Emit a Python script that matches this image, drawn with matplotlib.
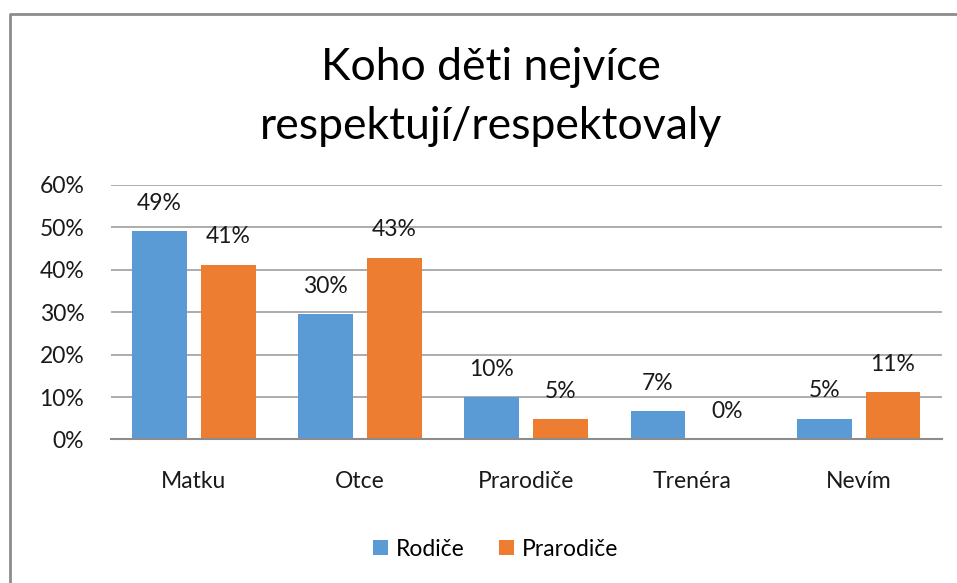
import numpy as np
import matplotlib
matplotlib.use('Agg')
import matplotlib.pyplot as plt
from matplotlib.lines import Line2D

plt.rcParams['font.family'] = ['Lato', 'DejaVu Sans']

categories = ['Matku', 'Otce', 'Prarodiče', 'Trenéra', 'Nevím']
rodice = [49.2, 29.5, 9.9, 6.6, 4.9]          # % Rodiče
prarodice = [41.2, 42.9, 4.8, 0.0, 11.1]      # % Prarodiče
rodice_lbl = ['49%', '30%', '10%', '7%', '5%']
prarodice_lbl = ['41%', '43%', '5%', '0%', '11%']
title = 'Koho děti nejvíce\nrespektují/respektovaly'

blue = '#5B9BD5'
orange = '#ED7D31'
grid_c = '#A6A6A6'

fig = plt.figure(figsize=(9.57, 5.83), dpi=100)
ax = fig.add_axes([0.1157, 0.2462, 0.8683, 0.4365])

x = np.arange(len(categories))
w = 0.33
off = 0.207
b1 = ax.bar(x - off, rodice, w, color=blue, label='Rodiče', zorder=3)
b2 = ax.bar(x + off, prarodice, w, color=orange, label='Prarodiče', zorder=3)

# data labels above bars
for bars, lbls in ((b1, rodice_lbl), (b2, prarodice_lbl)):
    for r, t in zip(bars, lbls):
        ax.annotate(t, (r.get_x() + r.get_width() / 2, r.get_height()),
                    xytext=(0, 20), textcoords='offset points',
                    ha='center', va='center', fontsize=16.5, color='#1a1a1a')

ax.set_xlim(-0.5, 4.5)
ax.set_ylim(0, 60)
ax.set_yticks(np.arange(0, 61, 10))
ax.set_yticklabels([f'{v}%' for v in range(0, 61, 10)])
ax.set_xticks(x)
ax.set_xticklabels(categories)
ax.tick_params(axis='both', length=0, labelsize=16.5, colors='#1a1a1a')
ax.tick_params(axis='y', pad=19)
ax.tick_params(axis='x', pad=23)
ax.yaxis.grid(True, color=grid_c, linewidth=1.3, zorder=0)
for s in ['top', 'right', 'left']:
    ax.spines[s].set_visible(False)
ax.spines['bottom'].set_color('#8C8C8C')
ax.spines['bottom'].set_linewidth(1.5)
ax.spines['bottom'].set_zorder(4)

fig.text(0.513, 0.833, title, ha='center', va='center', fontsize=32,
         linespacing=1.55, color='#000000')

fig.legend(handles=[b1, b2], loc='center', bbox_to_anchor=(0.518, 0.058),
           ncol=2, frameon=False, fontsize=16.5, handlelength=0.65,
           handleheight=0.65, handletextpad=0.35, columnspacing=1.5)

# chart border (only left and top visible in the crop)
fig.add_artist(Line2D([10 / 957, 10 / 957, 1.0], [0.0, 1 - 14 / 583, 1 - 14 / 583],
                      transform=fig.transFigure, color='#8C8C8C', linewidth=2))

fig.savefig('out.png', dpi=100)
